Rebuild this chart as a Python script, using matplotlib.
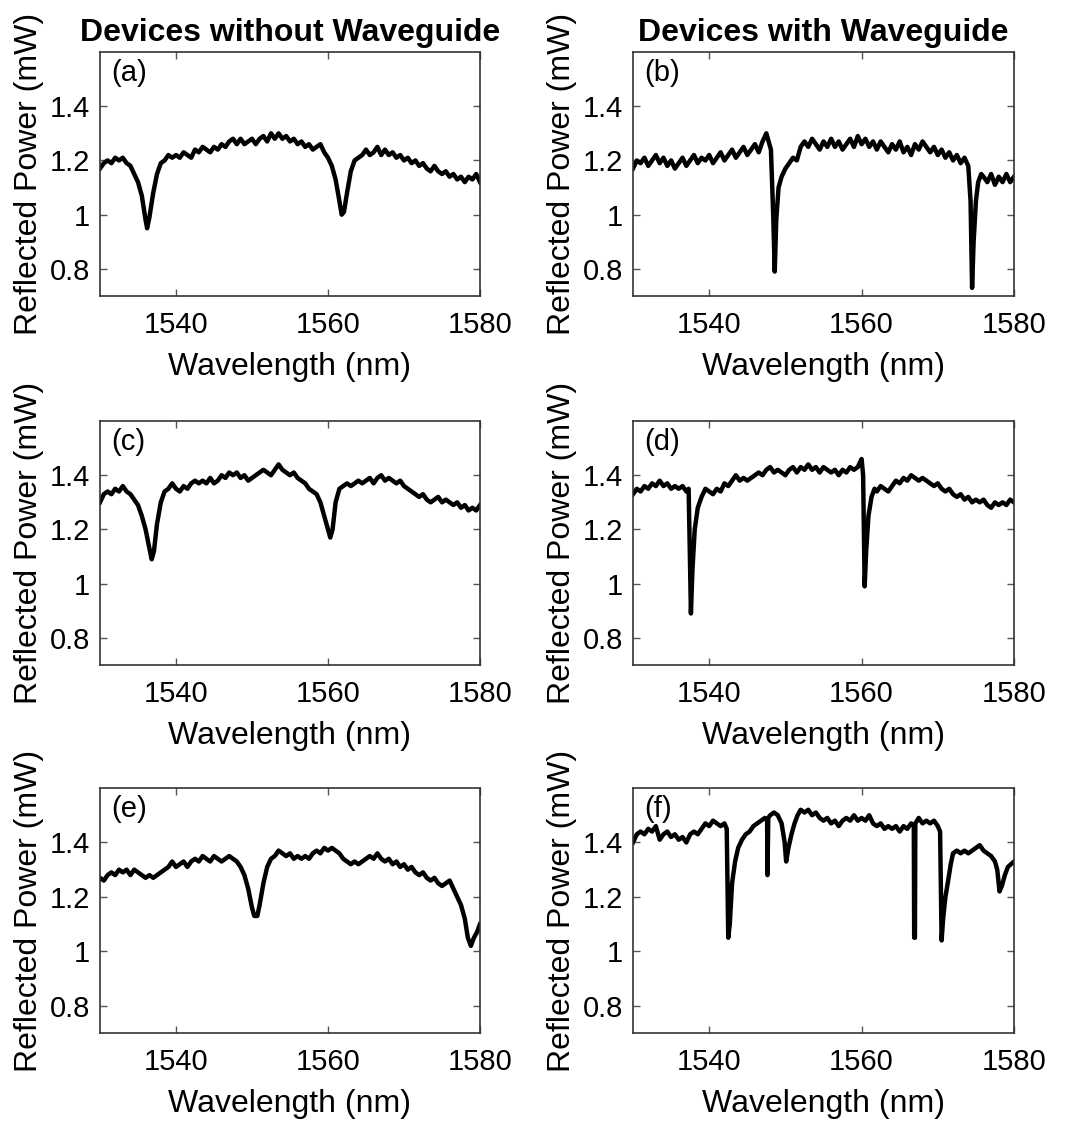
import matplotlib.pyplot as plt
from matplotlib.ticker import FuncFormatter

plt.rcParams['font.family'] = ['Liberation Sans', 'DejaVu Sans']

# (a) device without waveguide
wl_a = [1530, 1530.5, 1531, 1531.5, 1532, 1532.5, 1533, 1533.5, 1534, 1534.5, 1535, 1535.5, 1536, 1536.2, 1536.5,
        1537, 1537.5, 1538, 1538.5, 1539, 1539.5, 1540, 1540.5, 1541, 1541.5, 1542, 1542.5, 1543, 1543.5, 1544,
        1544.5, 1545, 1545.5, 1546, 1546.5, 1547, 1547.5, 1548, 1548.5, 1549, 1549.5, 1550, 1550.5, 1551, 1551.5,
        1552, 1552.5, 1553, 1553.5, 1554, 1554.5, 1555, 1555.5, 1556, 1556.5, 1557, 1557.5, 1558, 1558.5, 1559,
        1559.5, 1560, 1560.5, 1561, 1561.5, 1561.8, 1562.1, 1562.5, 1563, 1563.5, 1564, 1564.5, 1565, 1565.5, 1566,
        1566.5, 1567, 1567.5, 1568, 1568.5, 1569, 1569.5, 1570, 1570.5, 1571, 1571.5, 1572, 1572.5, 1573, 1573.5,
        1574, 1574.5, 1575, 1575.5, 1576, 1576.5, 1577, 1577.5, 1578, 1578.5, 1579, 1579.5, 1580]
pw_a = [1.17, 1.19, 1.20, 1.19, 1.21, 1.20, 1.21, 1.19, 1.18, 1.15, 1.12, 1.07, 0.98, 0.95, 0.99,
        1.08, 1.15, 1.19, 1.20, 1.22, 1.21, 1.22, 1.21, 1.23, 1.22, 1.21, 1.24, 1.23, 1.25, 1.24,
        1.23, 1.25, 1.24, 1.26, 1.25, 1.27, 1.28, 1.26, 1.28, 1.26, 1.27, 1.28, 1.26, 1.28, 1.29,
        1.27, 1.30, 1.28, 1.30, 1.28, 1.29, 1.27, 1.28, 1.26, 1.27, 1.25, 1.26, 1.24, 1.25, 1.26,
        1.23, 1.21, 1.18, 1.13, 1.05, 1.00, 1.01, 1.08, 1.16, 1.20, 1.21, 1.22, 1.24, 1.22, 1.23,
        1.25, 1.22, 1.24, 1.22, 1.23, 1.21, 1.22, 1.20, 1.21, 1.19, 1.20, 1.18, 1.19, 1.17, 1.16,
        1.18, 1.16, 1.15, 1.16, 1.14, 1.15, 1.13, 1.14, 1.12, 1.14, 1.13, 1.15, 1.12]

# (b) device with waveguide
wl_b = [1530, 1530.5, 1531, 1531.5, 1532, 1532.5, 1533, 1533.5, 1534, 1534.5, 1535, 1535.5, 1536, 1536.5, 1537,
        1537.5, 1538, 1538.5, 1539, 1539.5, 1540, 1540.5, 1541, 1541.5, 1542, 1542.5, 1543, 1543.5, 1544, 1544.5,
        1545, 1545.5, 1546, 1546.5, 1547, 1547.5, 1547.8, 1548.1, 1548.4, 1548.6, 1548.8, 1549.1, 1549.5, 1550,
        1550.5, 1551, 1551.5, 1552, 1552.5, 1553, 1553.5, 1554, 1554.5, 1555, 1555.5, 1556, 1556.5, 1557, 1557.5,
        1558, 1558.5, 1559, 1559.5, 1560, 1560.5, 1561, 1561.5, 1562, 1562.5, 1563, 1563.5, 1564, 1564.5, 1565,
        1565.5, 1566, 1566.5, 1567, 1567.5, 1568, 1568.5, 1569, 1569.5, 1570, 1570.5, 1571, 1571.5, 1572, 1572.5,
        1573, 1573.5, 1574, 1574.3, 1574.5, 1574.7, 1575, 1575.3, 1575.7, 1576, 1576.5, 1577, 1577.5, 1578, 1578.5,
        1579, 1579.5, 1580]
pw_b = [1.17, 1.20, 1.19, 1.21, 1.18, 1.20, 1.22, 1.19, 1.21, 1.18, 1.20, 1.17, 1.19, 1.21, 1.18,
        1.20, 1.22, 1.19, 1.21, 1.20, 1.22, 1.19, 1.21, 1.23, 1.20, 1.22, 1.24, 1.21, 1.23, 1.25,
        1.22, 1.24, 1.26, 1.23, 1.27, 1.30, 1.27, 1.24, 1.00, 0.79, 0.98, 1.10, 1.14, 1.17,
        1.19, 1.21, 1.20, 1.25, 1.27, 1.25, 1.28, 1.26, 1.24, 1.27, 1.25, 1.28, 1.25, 1.27, 1.24,
        1.26, 1.28, 1.25, 1.29, 1.26, 1.28, 1.25, 1.27, 1.24, 1.27, 1.25, 1.23, 1.26, 1.24, 1.27,
        1.23, 1.25, 1.22, 1.26, 1.24, 1.27, 1.25, 1.23, 1.25, 1.22, 1.24, 1.21, 1.23, 1.20, 1.22,
        1.19, 1.21, 1.18, 1.05, 0.73, 0.90, 1.05, 1.12, 1.15, 1.14, 1.12, 1.15, 1.11, 1.14, 1.12,
        1.15, 1.12, 1.14]

# (c) device without waveguide
wl_c = [1530, 1530.5, 1531, 1531.5, 1532, 1532.5, 1533, 1533.5, 1534, 1534.5, 1535, 1535.5, 1536, 1536.5, 1536.8,
        1537.1, 1537.5, 1538, 1538.5, 1539, 1539.5, 1540, 1540.5, 1541, 1541.5, 1542, 1542.5, 1543, 1543.5, 1544,
        1544.5, 1545, 1545.5, 1546, 1546.5, 1547, 1547.5, 1548, 1548.5, 1549, 1549.5, 1550, 1550.5, 1551, 1551.5,
        1552, 1552.5, 1553, 1553.5, 1554, 1554.5, 1555, 1555.5, 1556, 1556.5, 1557, 1557.5, 1558, 1558.5, 1559,
        1559.5, 1560, 1560.3, 1560.6, 1561, 1561.5, 1562, 1562.5, 1563, 1563.5, 1564, 1564.5, 1565, 1565.5, 1566,
        1566.5, 1567, 1567.5, 1568, 1568.5, 1569, 1569.5, 1570, 1570.5, 1571, 1571.5, 1572, 1572.5, 1573, 1573.5,
        1574, 1574.5, 1575, 1575.5, 1576, 1576.5, 1577, 1577.5, 1578, 1578.5, 1579, 1579.5, 1580]
pw_c = [1.30, 1.33, 1.34, 1.33, 1.35, 1.34, 1.36, 1.34, 1.33, 1.31, 1.29, 1.25, 1.20, 1.13, 1.09,
        1.12, 1.22, 1.30, 1.34, 1.35, 1.37, 1.35, 1.34, 1.36, 1.35, 1.37, 1.38, 1.37, 1.38, 1.37,
        1.39, 1.37, 1.38, 1.40, 1.39, 1.41, 1.40, 1.41, 1.39, 1.40, 1.38, 1.39, 1.40, 1.41, 1.42,
        1.41, 1.40, 1.42, 1.44, 1.42, 1.41, 1.40, 1.41, 1.39, 1.38, 1.37, 1.35, 1.34, 1.33, 1.30,
        1.25, 1.20, 1.17, 1.20, 1.30, 1.35, 1.36, 1.37, 1.36, 1.37, 1.38, 1.37, 1.38, 1.39, 1.37,
        1.39, 1.40, 1.38, 1.39, 1.38, 1.37, 1.38, 1.36, 1.35, 1.34, 1.33, 1.32, 1.33, 1.31, 1.30,
        1.31, 1.32, 1.30, 1.31, 1.30, 1.29, 1.30, 1.28, 1.29, 1.27, 1.28, 1.27, 1.29]

# (d) device with waveguide
wl_d = [1530, 1530.5, 1531, 1531.5, 1532, 1532.5, 1533, 1533.5, 1534, 1534.5, 1535, 1535.5, 1536, 1536.5, 1537,
        1537.3, 1537.5, 1537.6, 1537.8, 1538.1, 1538.5, 1539, 1539.5, 1540, 1540.5, 1541, 1541.5, 1542, 1542.5,
        1543, 1543.5, 1544, 1544.5, 1545, 1545.5, 1546, 1546.5, 1547, 1547.5, 1548, 1548.5, 1549, 1549.5, 1550,
        1550.5, 1551, 1551.5, 1552, 1552.5, 1553, 1553.5, 1554, 1554.5, 1555, 1555.5, 1556, 1556.5, 1557, 1557.5,
        1558, 1558.5, 1559, 1559.5, 1560, 1560.2, 1560.4, 1560.6, 1560.9, 1561.3, 1561.7, 1562, 1562.5, 1563,
        1563.5, 1564, 1564.5, 1565, 1565.5, 1566, 1566.5, 1567, 1567.5, 1568, 1568.5, 1569, 1569.5, 1570, 1570.5,
        1571, 1571.5, 1572, 1572.5, 1573, 1573.5, 1574, 1574.5, 1575, 1575.5, 1576, 1576.5, 1577, 1577.5, 1578,
        1578.5, 1579, 1579.5, 1580]
pw_d = [1.33, 1.35, 1.34, 1.36, 1.35, 1.37, 1.36, 1.38, 1.36, 1.37, 1.35, 1.36, 1.35, 1.36, 1.34,
        1.35, 1.05, 0.89, 1.05, 1.20, 1.28, 1.32, 1.35, 1.34, 1.33, 1.35, 1.34, 1.37, 1.36,
        1.38, 1.40, 1.38, 1.39, 1.38, 1.39, 1.40, 1.41, 1.40, 1.42, 1.43, 1.41, 1.42, 1.41, 1.40,
        1.42, 1.43, 1.41, 1.43, 1.42, 1.44, 1.42, 1.43, 1.41, 1.43, 1.42, 1.41, 1.42, 1.40, 1.42,
        1.41, 1.43, 1.42, 1.43, 1.46, 1.40, 0.99, 1.12, 1.25, 1.32, 1.35, 1.34, 1.36, 1.35,
        1.34, 1.36, 1.38, 1.37, 1.39, 1.38, 1.40, 1.39, 1.38, 1.39, 1.38, 1.37, 1.36, 1.37, 1.35,
        1.34, 1.35, 1.33, 1.32, 1.33, 1.31, 1.32, 1.30, 1.31, 1.30, 1.31, 1.29, 1.28, 1.30, 1.29,
        1.30, 1.29, 1.31, 1.30]

# (e) device without waveguide
wl_e = [1530, 1530.5, 1531, 1531.5, 1532, 1532.5, 1533, 1533.5, 1534, 1534.5, 1535, 1535.5, 1536, 1536.5, 1537,
        1537.5, 1538, 1538.5, 1539, 1539.5, 1540, 1540.5, 1541, 1541.5, 1542, 1542.5, 1543, 1543.5, 1544, 1544.5,
        1545, 1545.5, 1546, 1546.5, 1547, 1547.5, 1548, 1548.5, 1549, 1549.5, 1550, 1550.3, 1550.7, 1551, 1551.5,
        1552, 1552.5, 1553, 1553.5, 1554, 1554.5, 1555, 1555.5, 1556, 1556.5, 1557, 1557.5, 1558, 1558.5, 1559,
        1559.5, 1560, 1560.5, 1561, 1561.5, 1562, 1562.5, 1563, 1563.5, 1564, 1564.5, 1565, 1565.5, 1566, 1566.5,
        1567, 1567.5, 1568, 1568.5, 1569, 1569.5, 1570, 1570.5, 1571, 1571.5, 1572, 1572.5, 1573, 1573.5, 1574,
        1574.5, 1575, 1575.5, 1576, 1576.5, 1577, 1577.5, 1578, 1578.4, 1578.8, 1579.2, 1579.6, 1580]
pw_e = [1.27, 1.26, 1.28, 1.29, 1.28, 1.30, 1.29, 1.30, 1.28, 1.30, 1.29, 1.28, 1.27, 1.28, 1.27,
        1.28, 1.29, 1.30, 1.31, 1.33, 1.31, 1.32, 1.33, 1.31, 1.33, 1.34, 1.33, 1.35, 1.34, 1.33,
        1.35, 1.34, 1.33, 1.34, 1.35, 1.34, 1.33, 1.31, 1.28, 1.23, 1.16, 1.13, 1.13, 1.17, 1.25,
        1.31, 1.34, 1.35, 1.37, 1.36, 1.35, 1.36, 1.34, 1.35, 1.34, 1.35, 1.34, 1.36, 1.37, 1.36,
        1.38, 1.37, 1.38, 1.37, 1.36, 1.34, 1.33, 1.32, 1.33, 1.32, 1.33, 1.34, 1.35, 1.34, 1.36,
        1.34, 1.33, 1.34, 1.32, 1.33, 1.31, 1.32, 1.30, 1.31, 1.29, 1.28, 1.29, 1.27, 1.26, 1.27,
        1.25, 1.24, 1.25, 1.26, 1.23, 1.20, 1.17, 1.12, 1.05, 1.02, 1.05, 1.07, 1.10]

# (f) device with waveguide
wl_f = [1530, 1530.5, 1531, 1531.5, 1532, 1532.5, 1533, 1533.5, 1534, 1534.5, 1535, 1535.5, 1536, 1536.5, 1537,
        1537.5, 1538, 1538.5, 1539, 1539.5, 1540, 1540.5, 1541, 1541.5, 1542, 1542.3, 1542.5, 1542.7, 1543,
        1543.4, 1543.8, 1544.3, 1544.8, 1545.3, 1545.8, 1546.3, 1546.8, 1547.3, 1547.6, 1547.65, 1547.75, 1548,
        1548.5, 1549, 1549.5, 1549.9, 1550.1, 1550.4, 1550.8, 1551.2, 1551.6, 1552, 1552.5, 1553, 1553.5, 1554,
        1554.5, 1555, 1555.5, 1556, 1556.5, 1557, 1557.5, 1558, 1558.5, 1559, 1559.5, 1560, 1560.5, 1561, 1561.5,
        1562, 1562.5, 1563, 1563.5, 1564, 1564.5, 1565, 1565.5, 1566, 1566.5, 1566.85, 1566.9, 1567.0, 1567.05,
        1567.5, 1568, 1568.5, 1569, 1569.5, 1570, 1570.3, 1570.5, 1570.7, 1571, 1571.3, 1571.7, 1572, 1572.5,
        1573, 1573.5, 1574, 1574.5, 1575, 1575.5, 1576, 1576.5, 1577, 1577.5, 1577.8, 1578.1, 1578.4, 1578.8,
        1579.2, 1579.6, 1580]
pw_f = [1.40, 1.43, 1.44, 1.43, 1.45, 1.44, 1.46, 1.41, 1.43, 1.44, 1.42, 1.43, 1.41, 1.42, 1.40,
        1.43, 1.44, 1.43, 1.45, 1.47, 1.46, 1.48, 1.47, 1.46, 1.47, 1.45, 1.05, 1.10, 1.25,
        1.33, 1.38, 1.41, 1.43, 1.44, 1.46, 1.47, 1.48, 1.49, 1.48, 1.28, 1.49, 1.50,
        1.51, 1.50, 1.47, 1.40, 1.33, 1.38, 1.43, 1.47, 1.50, 1.52, 1.51, 1.52, 1.50, 1.51,
        1.49, 1.48, 1.49, 1.47, 1.48, 1.46, 1.48, 1.49, 1.48, 1.50, 1.48, 1.49, 1.48, 1.50, 1.47,
        1.46, 1.47, 1.45, 1.46, 1.45, 1.46, 1.44, 1.46, 1.45, 1.47, 1.46, 1.05, 1.05, 1.47,
        1.49, 1.47, 1.48, 1.47, 1.48, 1.46, 1.44, 1.04, 1.12, 1.20, 1.25, 1.32, 1.36, 1.37,
        1.36, 1.37, 1.36, 1.37, 1.38, 1.39, 1.37, 1.36, 1.35, 1.33, 1.30, 1.22, 1.24, 1.28,
        1.31, 1.32, 1.33]

panel_letters = ['(a)', '(b)', '(c)', '(d)', '(e)', '(f)']
col_titles = ['Devices without Waveguide', 'Devices with Waveguide']
x_ticks = [1540, 1560, 1580]
y_ticks = [0.8, 1.0, 1.2, 1.4]

data = [(wl_a, pw_a), (wl_b, pw_b), (wl_c, pw_c), (wl_d, pw_d), (wl_e, pw_e), (wl_f, pw_f)]

W, H = 1066, 1122
fig = plt.figure(figsize=(W / 100, H / 100), dpi=100)

# axes boxes in pixels: left, top, right, bottom
lefts = [100, 633]
rights = [480, 1014]
tops = [52, 421, 788]
bottoms = [296, 665, 1033]

for i, (wl, pw) in enumerate(data):
    r, c = i // 2, i % 2
    ax = fig.add_axes([lefts[c] / W, 1 - bottoms[r] / H,
                       (rights[c] - lefts[c]) / W, (bottoms[r] - tops[r]) / H])
    ax.plot(wl, pw, color='black', lw=3.2, solid_joinstyle='round')
    ax.set_xlim(1530, 1580)
    ax.set_ylim(0.7, 1.6)
    ax.set_xticks(x_ticks)
    ax.set_yticks(y_ticks)
    ax.yaxis.set_major_formatter(FuncFormatter(lambda v, p: '%g' % v))
    ax.tick_params(direction='in', top=True, right=True, length=5, width=1,
                   color='#555555', labelsize=21)
    ax.tick_params(axis='x', pad=11)
    ax.tick_params(axis='y', pad=7)
    for s in ax.spines.values():
        s.set_color('#333333')
        s.set_linewidth(1.2)
    ax.set_xlabel('Wavelength (nm)', fontsize=23, labelpad=9)
    ax.set_ylabel('Reflected Power (mW)', fontsize=23, labelpad=4)
    ax.text(0.03, 0.97, panel_letters[i], transform=ax.transAxes, fontsize=21,
            va='top', ha='left')
    if r == 0:
        ax.set_title(col_titles[c], fontsize=23, fontweight='bold', pad=8)

fig.savefig('out.png', dpi=100)
